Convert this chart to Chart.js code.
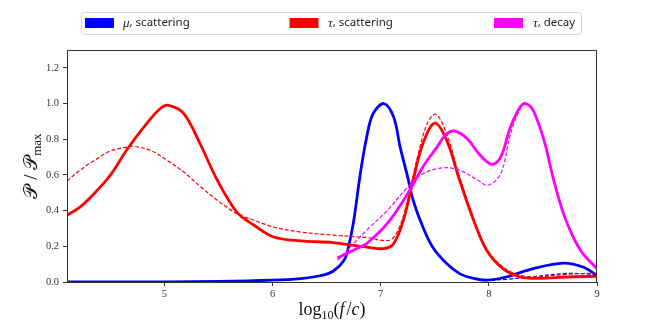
<!DOCTYPE html>
<html>
<head>
<meta charset="utf-8">
<script src="https://cdn.jsdelivr.net/npm/chart.js@4.4.0/dist/chart.umd.min.js"></script>
<style>
  body { margin: 0; background: #fff; }
  canvas { display: block; }
</style>
</head>
<body>
<canvas id="myChart" width="664" height="332"></canvas>
<script>
const xTicks = [5, 6, 7, 8, 9];
const yTicks = [0, 0.2, 0.4, 0.6, 0.8, 1.0, 1.2];

// mu, scattering
const muX = [4.1, 5.0, 5.5, 6.0, 6.26, 6.44, 6.56, 6.66, 6.70, 6.75, 6.81, 6.87, 6.93, 7.03, 7.12, 7.18, 7.25, 7.30, 7.39, 7.48, 7.61, 7.73, 7.86, 7.98, 8.16, 8.41, 8.69, 8.87, 9.0];
const muY = [0.0, 0.001, 0.003, 0.01, 0.019, 0.035, 0.06, 0.12, 0.19, 0.34, 0.6, 0.81, 0.943, 1.0, 0.924, 0.756, 0.588, 0.458, 0.308, 0.196, 0.103, 0.047, 0.02, 0.01, 0.028, 0.075, 0.106, 0.084, 0.037];
const muDashY = [0.0, 0.001, 0.003, 0.01, 0.019, 0.035, 0.06, 0.12, 0.19, 0.34, 0.6, 0.81, 0.943, 1.0, 0.924, 0.756, 0.588, 0.458, 0.308, 0.196, 0.103, 0.047, 0.02, 0.01, 0.015, 0.03, 0.047, 0.047, 0.041];

// tau, scattering
const tauX = [4.1, 4.22, 4.35, 4.5, 4.65, 4.81, 4.96, 5.04, 5.18, 5.33, 5.49, 5.67, 5.83, 6.01, 6.26, 6.56, 6.87, 7.03, 7.12, 7.21, 7.30, 7.39, 7.50, 7.61, 7.73, 7.86, 7.98, 8.13, 8.29, 8.47, 8.72, 9.0];
const tauY = [0.374, 0.42, 0.495, 0.598, 0.738, 0.868, 0.971, 0.99, 0.943, 0.775, 0.57, 0.392, 0.318, 0.252, 0.23, 0.221, 0.196, 0.187, 0.215, 0.345, 0.57, 0.775, 0.89, 0.794, 0.57, 0.345, 0.178, 0.075, 0.028, 0.02, 0.028, 0.032];
const tauDashX = [4.1, 4.22, 4.35, 4.5, 4.65, 4.72, 4.87, 5.03, 5.18, 5.33, 5.49, 5.67, 5.83, 6.01, 6.26, 6.56, 6.87, 7.08, 7.16, 7.25, 7.34, 7.43, 7.51, 7.61, 7.73, 7.86, 7.98, 8.13, 8.29, 8.47, 8.72, 9.0];
const tauDashY = [0.566, 0.626, 0.68, 0.734, 0.756, 0.76, 0.738, 0.68, 0.616, 0.536, 0.458, 0.383, 0.346, 0.308, 0.28, 0.263, 0.249, 0.234, 0.29, 0.458, 0.70, 0.887, 0.94, 0.83, 0.588, 0.355, 0.185, 0.084, 0.037, 0.03, 0.043, 0.05];

// tau, decay
const decX = [6.6, 6.81, 6.87, 7.06, 7.25, 7.39, 7.52, 7.61, 7.69, 7.80, 7.92, 8.03, 8.11, 8.20, 8.29, 8.34, 8.41, 8.51, 8.60, 8.69, 8.78, 8.87, 9.0];
const decY = [0.134, 0.196, 0.215, 0.327, 0.495, 0.644, 0.756, 0.831, 0.846, 0.803, 0.71, 0.659, 0.70, 0.868, 0.98, 1.0, 0.962, 0.794, 0.57, 0.383, 0.252, 0.159, 0.075];
const decDashX = [6.6, 6.87, 7.06, 7.25, 7.39, 7.58, 7.73, 7.89, 7.99, 8.11, 8.20, 8.29, 8.34, 8.41, 8.51, 8.60, 8.69, 8.78, 8.87, 9.0];
const decDashY = [0.122, 0.29, 0.40, 0.532, 0.607, 0.64, 0.626, 0.574, 0.542, 0.607, 0.83, 0.97, 0.995, 0.96, 0.79, 0.565, 0.38, 0.25, 0.158, 0.07];

const legendItems = [
  { sym: "\u03bc", text: ", scattering", color: "#0000ff" },
  { sym: "\u03c4", text: ", scattering", color: "#ff0000" },
  { sym: "\u03c4", text: ", decay", color: "#ff00ff" }
];

function pts(xs, ys) {
  return xs.map((x, i) => ({ x: x, y: ys[i] }));
}

function line(xs, ys, color, dashed, order) {
  return {
    data: pts(xs, ys),
    borderColor: color,
    backgroundColor: color,
    borderWidth: dashed ? 1.2 : 2.8,
    borderDash: dashed ? [4, 2] : [],
    pointRadius: 0,
    fill: false,
    tension: 0.35,
    order: order
  };
}

const SERIF = "'Liberation Serif', 'DejaVu Serif', serif";

const decorPlugin = {
  id: 'decor',
  afterDraw(chart) {
    const ctx = chart.ctx;
    const a = chart.chartArea;
    ctx.save();
    // frame
    ctx.strokeStyle = '#333';
    ctx.lineWidth = 1;
    ctx.strokeRect(Math.round(a.left) + 0.5, Math.round(a.top) + 0.5,
      Math.round(a.right - a.left) - 1, Math.round(a.bottom - a.top));

    // x title: log10(f/c)
    ctx.fillStyle = '#111';
    ctx.textBaseline = 'alphabetic';
    const parts = [
      { t: "log", f: "18px " + SERIF, dy: 0 },
      { t: "10", f: "12px " + SERIF, dy: 4 },
      { t: "(", f: "18px " + SERIF, dy: 0 },
      { t: "f", f: "italic 18px " + SERIF, dy: 0 },
      { t: "/", f: "18px " + SERIF, dy: 0 },
      { t: "c", f: "italic 18px " + SERIF, dy: 0 },
      { t: ")", f: "18px " + SERIF, dy: 0 }
    ];
    let w = 0;
    parts.forEach(p => { ctx.font = p.f; w += ctx.measureText(p.t).width + (p.t === "f" ? 2 : 0); });
    let x = (a.left + a.right) / 2 - w / 2;
    parts.forEach(p => {
      ctx.font = p.f;
      ctx.fillText(p.t, x, 315 + p.dy);
      x += ctx.measureText(p.t).width + (p.t === "f" ? 2 : 0);
    });

    // y title: P / P_max
    ctx.save();
    ctx.translate(37, (a.top + a.bottom) / 2);
    ctx.rotate(-Math.PI / 2);
    const yparts = [
      { t: "\ud835\udcab", f: "19px " + SERIF, dy: 0 },
      { t: " / ", f: "19px " + SERIF, dy: 0 },
      { t: "\ud835\udcab", f: "19px " + SERIF, dy: 0 },
      { t: "max", f: "13px " + SERIF, dy: 4 }
    ];
    w = 0;
    yparts.forEach(p => { ctx.font = p.f; w += ctx.measureText(p.t).width; });
    x = -w / 2;
    yparts.forEach(p => {
      ctx.font = p.f;
      ctx.fillText(p.t, x, p.dy);
      x += ctx.measureText(p.t).width;
    });
    ctx.restore();

    // legend
    const lx = 81.5, ly = 12.5, lw = 500, lh = 22;
    ctx.beginPath();
    ctx.roundRect(lx, ly, lw, lh, 3);
    ctx.fillStyle = 'rgba(255,255,255,0.8)';
    ctx.fill();
    ctx.strokeStyle = '#d6d6d6';
    ctx.lineWidth = 1;
    ctx.stroke();
    const patchX = [85, 289.5, 494];
    const textX = [123, 328, 533];
    legendItems.forEach((it, i) => {
      ctx.fillStyle = it.color;
      ctx.fillRect(patchX[i], 18, 29, 10);
      ctx.fillStyle = '#222';
      ctx.textBaseline = 'middle';
      ctx.font = "italic 13px " + SERIF;
      ctx.fillText(it.sym, textX[i], 23.5);
      const sw = ctx.measureText(it.sym).width;
      ctx.font = "11.5px 'Noto Sans', sans-serif";
      ctx.fillText(it.text, textX[i] + sw, 23);
    });
    ctx.restore();
  }
};

const CHART = document.getElementById("myChart");
new Chart(CHART, {
  type: 'line',
  data: {
    datasets: [
      line(muX, muY, '#0000ff', false, 6),
      line(muX, muDashY, '#0000ff', true, 5),
      line(tauX, tauY, '#ff0000', false, 4),
      line(tauDashX, tauDashY, '#ff0000', true, 3),
      line(decX, decY, '#ff00ff', false, 2),
      line(decDashX, decDashY, '#ff00ff', true, 1)
    ]
  },
  options: {
    responsive: false,
    animation: false,
    devicePixelRatio: 1,
    layout: { padding: { top: 50, right: 67, left: 0, bottom: 0 } },
    plugins: { legend: { display: false }, tooltip: { enabled: false } },
    scales: {
      x: {
        type: 'linear',
        min: 4.1,
        max: 9,
        afterBuildTicks: s => { s.ticks = xTicks.map(v => ({ value: v })); },
        afterFit: s => { s.height = 50; },
        grid: { drawOnChartArea: false, drawTicks: true, tickLength: 4, tickColor: '#333' },
        border: { display: false },
        ticks: { color: '#333', padding: 2, maxRotation: 0, font: { family: SERIF, size: 10.5 } }
      },
      y: {
        min: 0,
        max: 1.3,
        afterBuildTicks: s => { s.ticks = yTicks.map(v => ({ value: v })); },
        afterFit: s => { s.width = 67; },
        grid: { drawOnChartArea: false, drawTicks: true, tickLength: 4, tickColor: '#333' },
        border: { display: false },
        ticks: { color: '#333', padding: 4, font: { family: SERIF, size: 10.5 }, callback: v => v.toFixed(1) }
      }
    }
  },
  plugins: [decorPlugin]
});
</script>
</body>
</html>
